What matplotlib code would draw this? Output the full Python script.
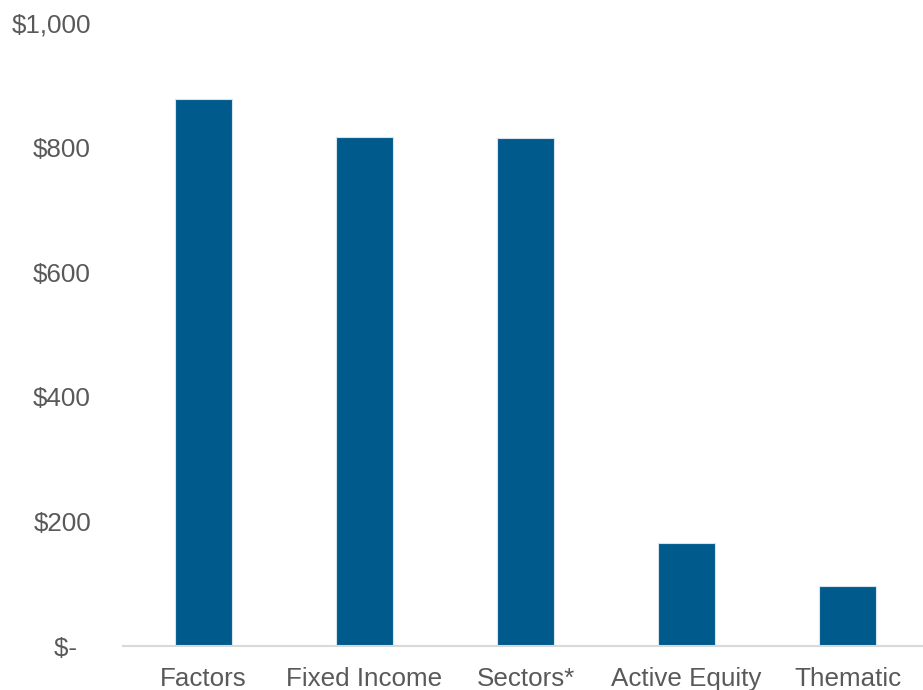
import matplotlib
matplotlib.use("Agg")
import matplotlib.pyplot as plt

categories = ["Factors", "Fixed Income", "Sectors*", "Active Equity", "Thematic"]
values = [878, 817, 815, 166, 96]
y_ticks = [0, 200, 400, 600, 800, 1000]
y_tick_labels = ["$-  ", "$200", "$400", "$600", "$800", "$1,000"]

plt.rcParams["font.family"] = ["Liberation Sans", "DejaVu Sans"]
text_color = "#595959"
bar_color = "#005A8C"

fig = plt.figure(figsize=(9.23, 6.9), dpi=100)
ax = fig.add_axes([123 / 923, 44 / 690, 805 / 923, 623 / 690])

x = range(len(categories))
ax.bar(x, values, width=0.36, color=bar_color, edgecolor="#d6e4ee", linewidth=0.8, zorder=3)

ax.set_xlim(-0.5, len(categories) - 0.5)
ax.set_ylim(0, 1000)
ax.set_yticks(y_ticks)
ax.set_yticklabels(y_tick_labels)
ax.set_xticks(list(x))
ax.set_xticklabels(categories)

for s in ["top", "right", "left"]:
    ax.spines[s].set_visible(False)
ax.spines["bottom"].set_color("#d9d9d9")
ax.spines["bottom"].set_linewidth(1.5)
ax.spines["bottom"].set_zorder(4)

ax.tick_params(axis="both", length=0, labelsize=18.7, colors=text_color)
ax.tick_params(axis="y", pad=23)
ax.tick_params(axis="x", pad=15)

fig.savefig("out.png", dpi=100)
